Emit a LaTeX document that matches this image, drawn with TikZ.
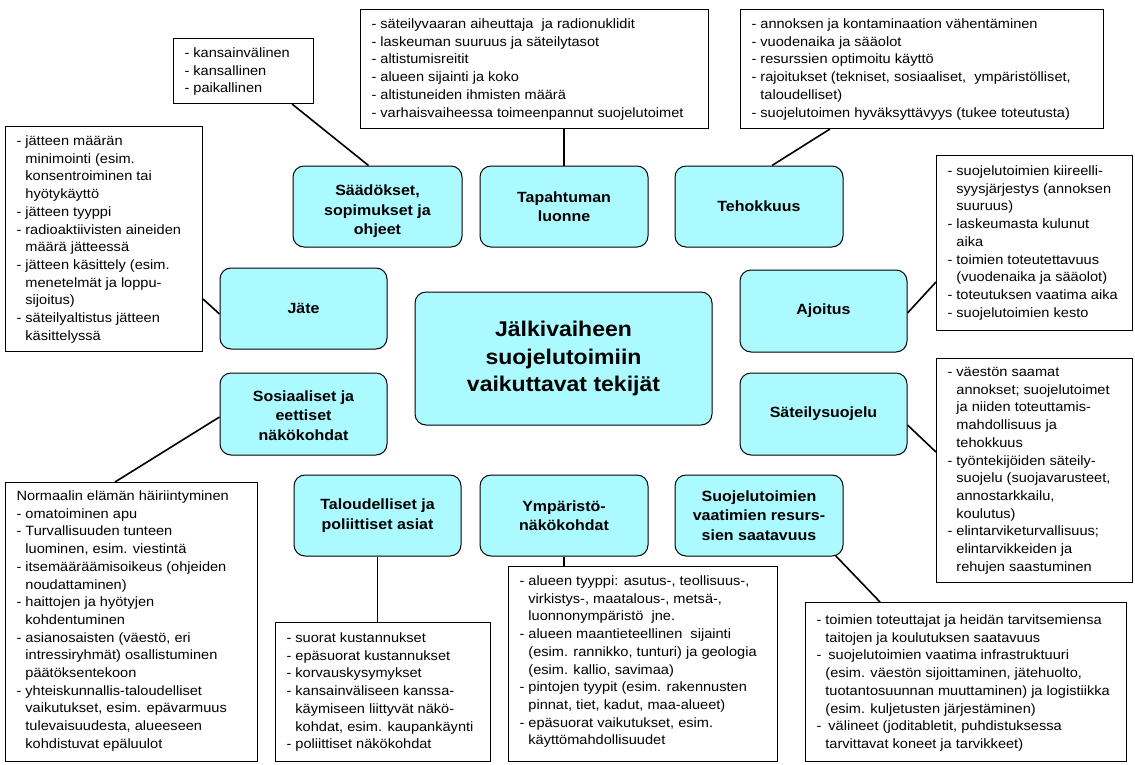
\documentclass[tikz,border=0pt]{standalone}
\usepackage{fontspec}
\setmainfont{Liberation Sans}[FakeStretch=1.08]
\usetikzlibrary{calc}
\definecolor{cy}{RGB}{170,250,255}
\pgfdeclarelayer{bg}
\pgfsetlayers{bg,main}
\newlength\fbl
\newlength\padl
\setlength\padl{11pt}
\newcommand\lb[4]{\parbox[c][#2][t]{#1}{\fontsize{13.5pt}{17.7pt}\selectfont\lineskiplimit=-100pt\lineskip=0pt\parskip=0pt\parindent=0pt\setlength\fbl{#3}#4}}
\newcommand\litem[1]{\par\noindent\mbox{\rule{0pt}{\fbl}\hspace*{\padl}- #1}}
\newcommand\lcont[1]{\par\noindent\mbox{\rule{0pt}{\fbl}\hspace*{\padl}\phantom{- }#1}}
\newcommand\lplain[1]{\par\noindent\mbox{\rule{0pt}{\fbl}\hspace*{\padl}#1}}
\newcommand\lowered[2]{\raisebox{-#1}[\height][\depth]{\begin{tabular}{@{}c@{}}#2\end{tabular}}}
\begin{document}
\begin{tikzpicture}[x=1pt,y=-1pt,
  lbox/.style={draw, line width=1pt, inner sep=0pt, anchor=north west},
  cbox/.style={draw, line width=1pt, fill=cy, rounded corners=11pt, align=center,
    font=\bfseries\fontsize{14.8pt}{19.5pt}\selectfont,
    minimum width=168pt, minimum height=81pt, inner sep=2pt},
  conn/.style={line width=1.6pt}]
\useasboundingbox (0,0) rectangle (1135,764);

% list boxes
\node[lbox] (kb) at (173,38) {\lb{140pt}{65pt}{19pt}{%
\litem{kansainvälinen}
\litem{kansallinen}
\litem{paikallinen}}};

\node[lbox] (tb) at (360,9) {\lb{348pt}{119pt}{19pt}{%
\litem{säteilyvaaran aiheuttaja~ ja radionuklidit}
\litem{laskeuman suuruus ja säteilytasot}
\litem{altistumisreitit}
\litem{alueen sijainti ja koko}
\litem{altistuneiden ihmisten määrä}
\litem{varhaisvaiheessa toimeenpannut suojelutoimet}}};

\node[lbox] (eb) at (740,9) {\lb{363pt}{119pt}{19pt}{%
\litem{annoksen ja kontaminaation vähentäminen}
\litem{vuodenaika ja sääolot}
\litem{resurssien optimoitu käyttö}
\litem{rajoitukset (tekniset, sosiaaliset,~ ympäristölliset,}
\lcont{taloudelliset)}
\litem{suojelutoimen hyväksyttävyys (tukee toteutusta)}}};

\node[lbox] (jb) at (5,126) {\lb{197pt}{225pt}{19pt}{%
\litem{jätteen määrän}
\lcont{minimointi (esim.}
\lcont{konsentroiminen tai}
\lcont{hyötykäyttö}
\litem{jätteen tyyppi}
\litem{radioaktiivisten aineiden}
\lcont{määrä jätteessä}
\litem{jätteen käsittely (esim.}
\lcont{menetelmät ja loppu-}
\lcont{sijoitus)}
\litem{säteilyaltistus jätteen}
\lcont{käsittelyssä}}};

\node[lbox] (ab) at (936,155) {\lb{196pt}{175pt}{20pt}{%
\litem{suojelutoimien kiireelli-}
\lcont{syysjärjestys (annoksen}
\lcont{suuruus)}
\litem{laskeumasta kulunut}
\lcont{aika}
\litem{toimien toteutettavuus}
\lcont{(vuodenaika ja sääolot)}
\litem{toteutuksen vaatima aika}
\litem{suojelutoimien kesto}}};

\node[lbox] (sb) at (936,358) {\lb{196pt}{224pt}{18pt}{%
\litem{väestön saamat}
\lcont{annokset; suojelutoimet}
\lcont{ja niiden toteuttamis-}
\lcont{mahdollisuus ja}
\lcont{tehokkuus}
\litem{työntekijöiden säteily-}
\lcont{suojelu (suojavarusteet,}
\lcont{annostarkkailu,}
\lcont{koulutus)}
\litem{elintarviketurvallisuus;}
\lcont{elintarvikkeiden ja}
\lcont{rehujen saastuminen}}};

\node[lbox] (ob) at (5,482) {\lb{252pt}{279pt}{18pt}{%
\lplain{Normaalin elämän häiriintyminen}
\litem{omatoiminen apu}
\litem{Turvallisuuden tunteen}
\lcont{luominen, esim. viestintä}
\litem{itsemääräämisoikeus (ohjeiden}
\lcont{noudattaminen)}
\litem{haittojen ja hyötyjen}
\lcont{kohdentuminen}
\litem{asianosaisten (väestö, eri}
\lcont{intressiryhmät) osallistuminen}
\lcont{päätöksentekoon}
\litem{yhteiskunnallis-taloudelliset}
\lcont{vaikutukset, esim. epävarmuus}
\lcont{tulevaisuudesta, alueeseen}
\lcont{kohdistuvat epäluulot}}};

\node[lbox] (lb) at (275,622) {\lb{215pt}{139pt}{20pt}{%
\litem{suorat kustannukset}
\litem{epäsuorat kustannukset}
\litem{korvauskysymykset}
\litem{kansainväliseen kanssa-}
\lcont{käymiseen liittyvät näkö-}
\lcont{kohdat, esim. kaupankäynti}
\litem{poliittiset näkökohdat}}};

\node[lbox] (yb) at (508,566) {\lb{269pt}{195pt}{19pt}{%
\litem{alueen tyyppi: asutus-, teollisuus-,}
\lcont{virkistys-, maatalous-, metsä-,}
\lcont{luonnonympäristö~ jne.}
\litem{alueen maantieteellinen~ sijainti}
\lcont{(esim. rannikko, tunturi) ja geologia}
\lcont{(esim. kallio, savimaa)}
\litem{pintojen tyypit (esim. rakennusten}
\lcont{pinnat, tiet, kadut, maa-alueet)}
\litem{epäsuorat vaikutukset, esim.}
\lcont{käyttömahdollisuudet}}};

\node[lbox] (rb) at (805,602) {\lb{321pt}{159pt}{22pt}{%
\litem{toimien toteuttajat ja heidän tarvitsemiensa}
\lcont{taitojen ja koulutuksen saatavuus}
\litem{\hspace{3pt}suojelutoimien vaatima infrastruktuuri}
\lcont{(esim. väestön sijoittaminen, jätehuolto,}
\lcont{tuotantosuunnan muuttaminen) ja logistiikka}
\lcont{(esim. kuljetusten järjestäminen)}
\litem{\hspace{3pt}välineet (joditabletit, puhdistuksessa}
\lcont{tarvittavat koneet ja tarvikkeet)}}};

% cyan boxes
\node[cbox, minimum width=169pt] (S1) at (377.5,206.5) {\lowered{5pt}{Säädökset,\\sopimukset ja\\ohjeet}};
\node[cbox] (S2) at (564,206.5) {Tapahtuman\\luonne};
\node[cbox] (S3) at (759,206.5) {Tehokkuus};
\node[cbox, minimum width=167pt] (S4) at (303.5,308.5) {Jäte};
\node[cbox, minimum width=167pt, minimum height=82pt] (S5) at (823.5,311) {Ajoitus};
\node[cbox, minimum width=167pt, minimum height=82pt] (S6) at (303.5,414) {\lowered{3pt}{Sosiaaliset ja\\eettiset\\näkökohdat}};
\node[cbox, minimum width=167pt, minimum height=82pt] (S7) at (823.5,414) {Säteilysuojelu};
\node[cbox, minimum width=167pt] (S8) at (377.5,515.5) {Taloudelliset ja\\poliittiset asiat};
\node[cbox] (S9) at (564,515.5) {Ympäristö-\\näkökohdat};
\node[cbox] (S10) at (759,515.5) {Suojelutoimien\\vaatimien resurs-\\sien saatavuus};
\node[cbox, minimum width=297pt, minimum height=133pt,
  font=\bfseries\fontsize{21.3pt}{27.5pt}\selectfont] (C) at (563.5,358.5)
  {Jälkivaiheen\\suojelutoimiin\\vaikuttavat tekijät};

% connectors
\begin{pgfonlayer}{bg}
\draw[conn] ($(S1.north)+(-9,0)$) -- ($(kb.south west)+(119,0)$);
\draw[conn] (S2.north) -- (S2.north |- tb.south);
\draw[conn] ($(S3.north)+(13,0)$) -- ($(eb.south west)+(90,0)$);
\draw[conn] ($(S4.west)+(0,5.5)$) -- ($(jb.north east)+(0,173)$);
\draw[conn] ($(S5.east)+(0,2)$) -- ($(ab.north west)+(0,127)$);
\draw[conn] ($(S7.east)+(0,11)$) -- ($(sb.north west)+(0,94)$);
\draw[conn] ($(S6.west)+(0,3)$) -- ($(ob.north west)+(110,0)$);
\draw[conn] (S8.south) -- (S8.south |- lb.north);
\draw[conn] (S9.south) -- (S9.south |- yb.north);
\draw[conn] ($(S10.south east)+(-10,-3)$) -- ($(rb.north west)+(75,0)$);
\end{pgfonlayer}
\end{tikzpicture}
\end{document}
